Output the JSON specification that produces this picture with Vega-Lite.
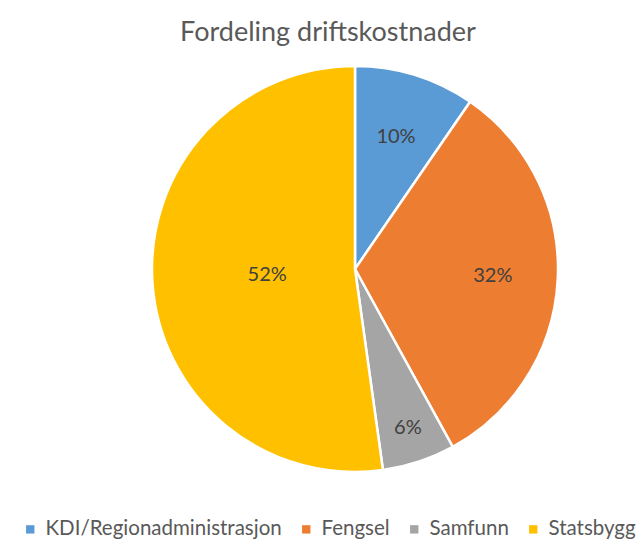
{
  "$schema": "https://vega.github.io/schema/vega-lite/v6.json",
  "width": 578,
  "height": 416,
  "autosize": {"type": "none"},
  "padding": {"left": 66, "top": 61, "right": 0, "bottom": 78},
  "background": "white",
  "title": {
    "text": "Fordeling driftskostnader",
    "font": "Lato",
    "fontSize": 27,
    "fontWeight": "normal",
    "color": "#595959",
    "anchor": "middle",
    "dx": -27,
    "offset": 14
  },
  "data": {
    "values": [
      {"category": "KDI/Regionadministrasjon", "value": 9.6, "idx": 1, "label": "10%"},
      {"category": "Fengsel", "value": 32.4, "idx": 2, "label": "32%"},
      {"category": "Samfunn", "value": 5.8, "idx": 3, "label": "6%"},
      {"category": "Statsbygg", "value": 52.2, "idx": 4, "label": "52%"}
    ]
  },
  "encoding": {
    "theta": {"field": "value", "type": "quantitative", "stack": true},
    "order": {"field": "idx", "type": "quantitative"}
  },
  "layer": [
    {
      "mark": {"type": "arc", "outerRadius": 203, "stroke": "white", "strokeWidth": 2.5},
      "encoding": {
        "color": {
          "field": "category",
          "type": "nominal",
          "scale": {
            "domain": ["KDI/Regionadministrasjon", "Fengsel", "Samfunn", "Statsbygg"],
            "range": ["#5B9BD5", "#ED7D31", "#A5A5A5", "#FFC000"]
          },
          "legend": {
            "orient": "none",
            "legendX": -46,
            "legendY": 458,
            "direction": "horizontal",
            "title": null,
            "symbolType": "square",
            "symbolSize": 70,
            "symbolStrokeWidth": 0,
            "labelFont": "Lato",
            "labelFontSize": 20.5,
            "labelColor": "#595959",
            "labelOffset": 5,
            "labelLimit": 500,
            "columnPadding": 14
          }
        }
      }
    },
    {
      "mark": {
        "type": "text",
        "radius": {"expr": "datum.category == 'Statsbygg' ? 88 : datum.category == 'Samfunn' ? 168 : 138"},
        "font": "Lato",
        "fontSize": 20,
        "color": "#404040"
      },
      "encoding": {
        "detail": {"field": "category", "type": "nominal"},
        "text": {"field": "label", "type": "nominal"}
      }
    }
  ],
  "config": {"view": {"stroke": null}}
}
